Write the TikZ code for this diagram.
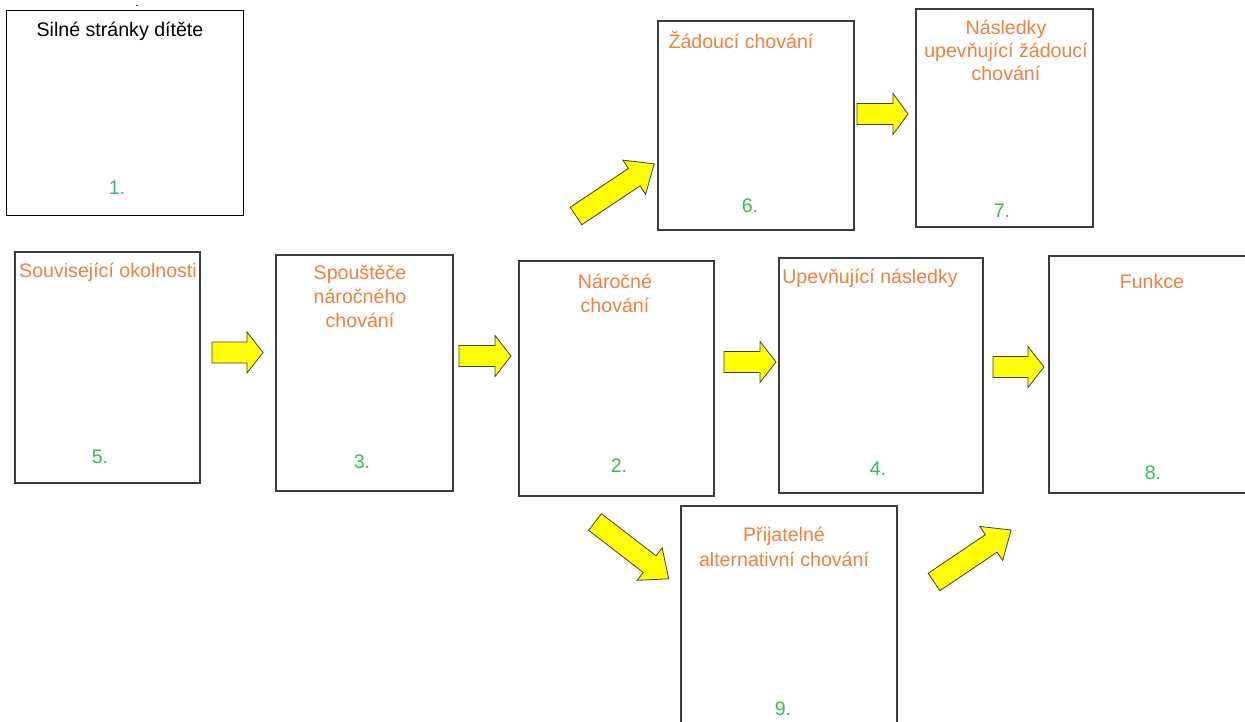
\documentclass[tikz,border=0pt]{standalone}
\usepackage{fontspec}
\setmainfont{Liberation Sans}
\definecolor{txtorange}{RGB}{240,128,60}
\definecolor{numgreen}{RGB}{50,190,90}
\definecolor{boxgrey}{RGB}{60,60,60}
\definecolor{arrowyellow}{RGB}{255,255,0}
\newcommand{\blockarr}[6]{% name, x, y, angle, length, headlength
  \draw[blockarrow, shift={(#2,#3)}, rotate=#4] (0,-10.5) -- (#5-#6,-10.5) -- (#5-#6,-20.5) -- (#5,0) -- (#5-#6,20.5) -- (#5-#6,10.5) -- (0,10.5) -- cycle;
  \coordinate (#1) at (#2,#3);}
\tikzset{
  box/.style={draw=boxgrey, line width=1.1pt, inner sep=0pt, fill=white},
  title/.style={text=txtorange, font=\fontsize{19.6}{24}\selectfont, align=center, inner sep=0pt},
  num/.style={text=numgreen, font=\fontsize{19.6}{24}\selectfont, inner sep=0pt},
  blockarrow/.style={fill=arrowyellow, draw=black!75, line width=0.8pt, line join=miter}
}
\begin{document}
\begin{tikzpicture}[x=1pt,y=-1pt]
\useasboundingbox (0,0) rectangle (1245,721);
\clip (0,0) rectangle (1245,721);
% boxes
\node[box, draw=black, line width=0.9pt, minimum width=237pt, minimum height=205pt] (b1) at (124.5,112.5) {};
\node[box, minimum width=185pt, minimum height=231pt] (b5) at (107.5,367.5) {};
\node[box, minimum width=177pt, minimum height=236pt] (b3) at (364.5,373) {};
\node[box, minimum width=195pt, minimum height=235pt] (b2) at (616.5,378.5) {};
\node[box, minimum width=204pt, minimum height=235pt] (b4) at (881,375.5) {};
\node[box, minimum width=211pt, minimum height=237pt] (b8) at (1154.5,374.5) {};
\node[box, minimum width=196pt, minimum height=209pt] (b6) at (756,125.5) {};
\node[box, minimum width=177pt, minimum height=218pt] (b7) at (1004.5,118) {};
\node[box, minimum width=216pt, minimum height=234pt] (b9) at (789,623) {};
% titles
\node[title, text=black] (t1) at (120,31) {Silné stránky dítěte};
\node[title] (t5) at (108,272) {Související okolnosti};
\node[title] (t3) at (360,296.5) {Spouštěče\\náročného\\chování};
\node[title] (t2) at (615,293) {Náročné\\chování};
\node[title] (t4) at (870,278) {Upevňující následky};
\node[title] (t8) at (1152,281) {Funkce};
\node[title] (t6) at (741,40) {Žádoucí chování};
\node[title, font=\fontsize{19.6}{23}\selectfont] (t7) at (1006,50) {Následky\\upevňující žádoucí\\chování};
\node[title, font=\fontsize{19.6}{25}\selectfont] (t9) at (784,546.5) {Přijatelné\\alternativní chování};
% numbers
\node[num] (n1) at (117,188) {1.};
\node[num] (n5) at (100,457) {5.};
\node[num] (n3) at (362,462) {3.};
\node[num] (n2) at (619,466) {2.};
\node[num] (n4) at (878,469) {4.};
\node[num] (n8) at (1153,473) {8.};
\node[num] (n6) at (750,206) {6.};
\node[num] (n7) at (1002,211) {7.};
\node[num] (n9) at (783,709) {9.};
% block arrows
\blockarr{a53}{212}{352.5}{0}{51}{16}
\blockarr{a32}{459}{356}{0}{52}{16}
\blockarr{a24}{724}{362}{0}{52}{16}
\blockarr{a48}{993}{367}{0}{51}{16}
\blockarr{a67}{857}{114}{0}{51}{15}
\blockarr{a26}{576}{216}{33.7}{94}{24}
\blockarr{a29}{595}{522}{-37.6}{93}{24}
\blockarr{a98}{934}{582}{34}{93}{24}
% small mark at top
\fill[black!80] (136,4.5) rectangle (138,6);
\end{tikzpicture}
\end{document}
